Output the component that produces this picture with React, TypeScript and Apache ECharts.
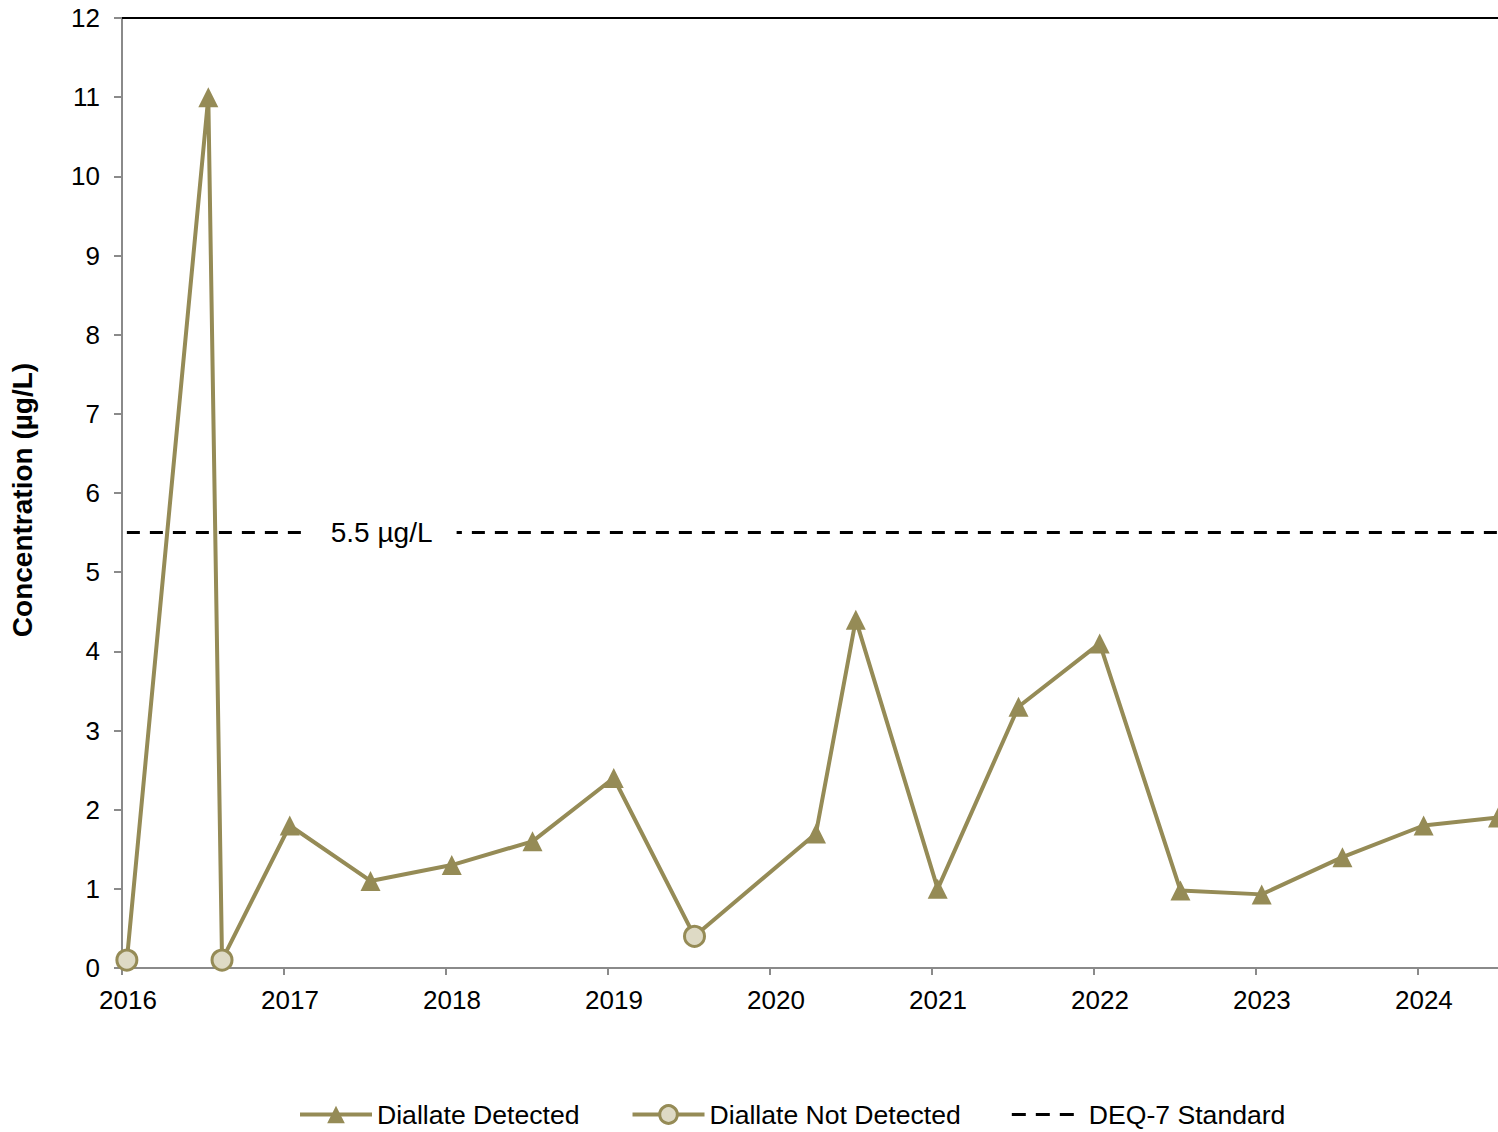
import React, { useEffect, useRef } from "react";
import * as echarts from "echarts";

const detectedDates = [
  "2016-07-14", "2017-01-14", "2017-07-15", "2018-01-14", "2018-07-15",
  "2019-01-14", "2020-04-14", "2020-07-13", "2021-01-14", "2021-07-15",
  "2022-01-14", "2022-07-15", "2023-01-14", "2023-07-15", "2024-01-14",
  "2024-06-30",
];
const detectedValues = [11, 1.8, 1.1, 1.3, 1.6, 2.4, 1.7, 4.4, 1.0, 3.3, 4.1, 0.98, 0.93, 1.4, 1.8, 1.9];

const notDetectedDates = ["2016-01-12", "2016-08-14", "2019-07-15"];
const notDetectedValues = [0.1, 0.1, 0.4];

const yearTicks = [2016, 2017, 2018, 2019, 2020, 2021, 2022, 2023, 2024];
const yTicks = [0, 1, 2, 3, 4, 5, 6, 7, 8, 9, 10, 11, 12];

const standardValue = 5.5;
const standardStart = "2016-01-12";
const standardLabelDate = "2017-08-09";
const xMinDate = "2016-01-01";
const xMaxDate = "2024-06-30";

const OLIVE = "#958B56";
const ND_FILL = "#DEDAC5";
const AXIS_GRAY = "#8A8A8A";
const FONT = "'Liberation Sans', Arial, sans-serif";

function toYear(s: string): number {
  const d = new Date(s + "T00:00:00Z");
  const y = d.getUTCFullYear();
  const start = Date.UTC(y, 0, 1);
  const end = Date.UTC(y + 1, 0, 1);
  return y + (d.getTime() - start) / (end - start);
}

export default function App() {
  const ref = useRef<HTMLDivElement>(null);

  useEffect(() => {
    if (!ref.current) return;
    const chart = echarts.init(ref.current, null, { renderer: "svg" });

    const merged = [
      ...detectedDates.map((d, i) => ({ x: toYear(d), y: detectedValues[i], nd: false })),
      ...notDetectedDates.map((d, i) => ({ x: toYear(d), y: notDetectedValues[i], nd: true })),
    ].sort((a, b) => a.x - b.x);

    const detData = merged.map((p) =>
      p.nd ? { value: [p.x, p.y], symbol: "none" } : { value: [p.x, p.y] }
    );
    const ndData = merged.map((p) => (p.nd ? [p.x, p.y] : [p.x, "-"]));

    const xMin = toYear(xMinDate);
    const xMax = toYear(xMaxDate);

    const option: any = {
      animation: false,
      textStyle: { fontFamily: FONT },
      grid: { left: 121, right: 0, top: 18, bottom: 164 },
      xAxis: [
        {
          type: "value",
          min: xMin,
          max: xMax,
          axisLine: { onZero: false, lineStyle: { color: AXIS_GRAY, width: 2 } },
          axisTick: { show: true, length: 7, lineStyle: { color: AXIS_GRAY, width: 2 }, customValues: yearTicks },
          axisLabel: {
            customValues: yearTicks,
            formatter: (v: number) => String(Math.round(v)),
            fontSize: 26,
            color: "#000",
            margin: 19,
            padding: [0, 0, 0, 12],
          },
          splitLine: { show: false },
        },
        {
          type: "value",
          position: "top",
          min: xMin,
          max: xMax,
          axisLine: { onZero: false, lineStyle: { color: "#000", width: 2 } },
          axisTick: { show: false },
          axisLabel: { show: false },
          splitLine: { show: false },
        },
      ],
      yAxis: {
        type: "value",
        min: yTicks[0],
        max: yTicks[yTicks.length - 1],
        interval: 1,
        name: "Concentration (µg/L)",
        nameLocation: "middle",
        nameGap: 86,
        nameTextStyle: { fontSize: 28, fontWeight: "bold", color: "#000", padding: [0, 14, 0, 0] },
        axisLine: { show: true, onZero: false, lineStyle: { color: AXIS_GRAY, width: 2 } },
        axisTick: { show: true, length: 8, lineStyle: { color: AXIS_GRAY, width: 2 } },
        axisLabel: { fontSize: 26, color: "#000", margin: 22 },
        splitLine: { show: false },
      },
      legend: {
        left: 293,
        top: 1096,
        itemWidth: 72,
        itemHeight: 22,
        itemGap: 51,
        textStyle: { fontSize: 26.6, color: "#000" },
        lineStyle: { width: 4 },
        data: [
          { name: "Diallate Detected" },
          { name: "Diallate Not Detected", itemStyle: { borderWidth: 3 } },
          {
            name: "DEQ-7 Standard",
            icon: "path://M0,0H14V3H0Z M24,0H38V3H24Z M48,0H62V3H48Z M71.9,0H72V0.01H71.9Z",
          },
        ],
      },
      series: [
        {
          name: "Diallate Detected",
          type: "line",
          data: detData,
          symbol: "triangle",
          symbolSize: 20,
          color: OLIVE,
          lineStyle: { color: OLIVE, width: 4 },
          itemStyle: { color: OLIVE },
          z: 2,
        },
        {
          name: "Diallate Not Detected",
          type: "line",
          data: ndData,
          symbol: "circle",
          symbolSize: 20,
          color: OLIVE,
          lineStyle: { color: OLIVE, width: 4 },
          itemStyle: { color: ND_FILL, borderColor: OLIVE, borderWidth: 3 },
          z: 3,
        },
        {
          name: "DEQ-7 Standard",
          type: "line",
          data: [
            [toYear(standardStart), standardValue],
            [xMax, standardValue],
          ],
          symbol: "none",
          color: "#000",
          lineStyle: { color: "#000", width: 3, type: [13, 10] },
          z: 4,
          markPoint: {
            symbol: "rect",
            symbolSize: [150, 30],
            itemStyle: { color: "#fff" },
            label: {
              show: true,
              position: "inside",
              formatter: `${standardValue} µg/L`,
              color: "#000",
              fontSize: 28,
            },
            data: [{ coord: [toYear(standardLabelDate), standardValue] }],
          },
        },
      ],
    };

    chart.setOption(option);
    return () => chart.dispose();
  }, []);

  return (
    <div
      ref={ref}
      style={{ position: "absolute", left: 0, top: 0, width: 1498, height: 1132, background: "#fff" }}
    />
  );
}
